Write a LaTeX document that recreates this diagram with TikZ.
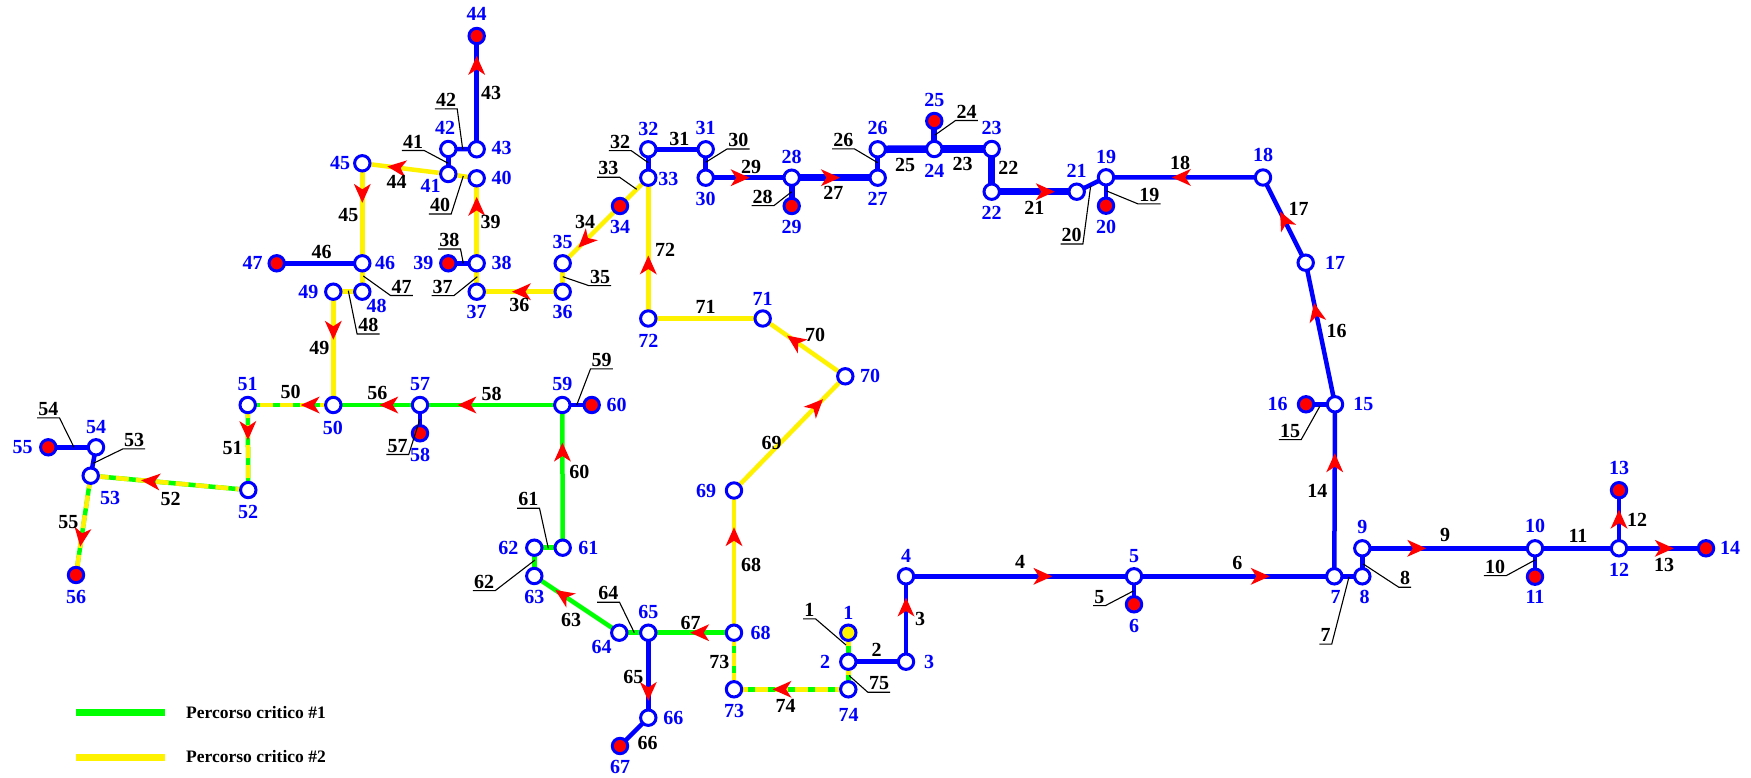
\documentclass[tikz,border=0pt]{standalone}
\usepackage{fontspec}
\setmainfont{Liberation Serif}
\usetikzlibrary{decorations.markings}
\begin{document}
\begin{tikzpicture}[x=1pt,y=-1pt,
  nd/.style={circle, draw=blue, line width=3pt, fill=white, minimum size=15.4pt, inner sep=0pt},
  rd/.style={nd, fill=red},
  yd/.style={nd, fill=yellow},
  bl/.style={draw=blue, line width=4.5pt},
  bm/.style={draw=blue, line width=6pt},
  bk/.style={draw=blue, line width=7.5pt},
  ye/.style={draw=yellow, line width=4.5pt},
  gr/.style={draw=green, line width=4.5pt},
  gy/.style={preaction={draw=green, solid, line width=4.5pt}, draw=yellow, line width=4.5pt, dash pattern=on 13pt off 7pt},
  arr/.style={postaction={decorate, decoration={markings, mark=at position #1 with {\fill[red] (9.5,0) -- (-9.5,8.5) -- (-4,0) -- (-9.5,-8.5) -- cycle;}}}},
  nl/.style={text=blue, font=\fontsize{20}{23}\selectfont\bfseries, inner sep=0pt},
  el/.style={text=black, font=\fontsize{20}{23}\selectfont\bfseries, inner sep=0pt},
  ul/.style={el, inner xsep=1pt, inner ysep=2pt},
  ld/.style={draw=black, line width=1.1pt},
  lgt/.style={text=black, font=\fontsize{17.5}{20}\selectfont\bfseries, anchor=west, inner sep=0pt}
]
\useasboundingbox (0,0) rectangle (1751,777);
% node centres
\coordinate (p1) at (848.3,632.7);
\coordinate (p2) at (848.3,661.7);
\coordinate (p3) at (906,661.7);
\coordinate (p4) at (906,576.3);
\coordinate (p5) at (1134,576.3);
\coordinate (p6) at (1134,604.3);
\coordinate (p7) at (1334.3,576.3);
\coordinate (p8) at (1362.3,576.3);
\coordinate (p9) at (1362.3,548.3);
\coordinate (p10) at (1535,548.3);
\coordinate (p11) at (1535,576.7);
\coordinate (p12) at (1619,548.3);
\coordinate (p13) at (1619,490.2);
\coordinate (p14) at (1706,548.3);
\coordinate (p15) at (1335,404.3);
\coordinate (p16) at (1306,404.3);
\coordinate (p17) at (1305.7,262.7);
\coordinate (p18) at (1263,177.5);
\coordinate (p19) at (1106,177.3);
\coordinate (p20) at (1106,205.7);
\coordinate (p21) at (1076.7,191.7);
\coordinate (p22) at (991.7,191.7);
\coordinate (p23) at (991.7,149);
\coordinate (p24) at (934.3,149);
\coordinate (p25) at (934.3,121);
\coordinate (p26) at (877.7,149.3);
\coordinate (p27) at (877.7,177.7);
\coordinate (p28) at (791.7,177.7);
\coordinate (p29) at (791.7,206);
\coordinate (p30) at (705.7,177.7);
\coordinate (p31) at (705.7,149.3);
\coordinate (p32) at (648.3,149.3);
\coordinate (p33) at (648.3,177.7);
\coordinate (p34) at (620,206);
\coordinate (p35) at (562.7,263.3);
\coordinate (p36) at (562.7,291.7);
\coordinate (p37) at (476.7,291.7);
\coordinate (p38) at (476.7,263.3);
\coordinate (p39) at (448.3,263.3);
\coordinate (p40) at (476.7,178.3);
\coordinate (p41) at (448.3,174);
\coordinate (p42) at (448.3,149);
\coordinate (p43) at (476.7,149.3);
\coordinate (p44) at (476.7,36);
\coordinate (p45) at (362.3,163.3);
\coordinate (p46) at (362.3,263.3);
\coordinate (p47) at (276.7,263.3);
\coordinate (p48) at (362.3,291.7);
\coordinate (p49) at (333.3,291.7);
\coordinate (p50) at (333.3,405);
\coordinate (p51) at (247.7,405);
\coordinate (p52) at (248.3,490);
\coordinate (p53) at (90.7,475.7);
\coordinate (p54) at (96,447.3);
\coordinate (p55) at (48.3,447.3);
\coordinate (p56) at (76,575);
\coordinate (p57) at (420,405);
\coordinate (p58) at (420,433.3);
\coordinate (p59) at (562.3,405);
\coordinate (p60) at (591.7,405);
\coordinate (p61) at (562.7,547.7);
\coordinate (p62) at (534.3,547.7);
\coordinate (p63) at (534.3,576);
\coordinate (p64) at (619.3,632.7);
\coordinate (p65) at (648.3,632.7);
\coordinate (p66) at (648.3,717.7);
\coordinate (p67) at (620,746);
\coordinate (p68) at (734,632.7);
\coordinate (p69) at (734,490.5);
\coordinate (p70) at (845.3,376.3);
\coordinate (p71) at (762.7,318.5);
\coordinate (p72) at (648.3,318.5);
\coordinate (p73) at (734,689.3);
\coordinate (p74) at (848.3,689.3);
% edges
\draw[gy] (p1) -- (p2);
\draw[bl] (p2) -- (p3);
\draw[bl, arr=0.64] (p3) -- (p4);
\draw[bl, arr=0.6] (p4) -- (p5);
\draw[bl] (p5) -- (p6);
\draw[bl, arr=0.63] (p5) -- (p7);
\draw[bl] (p7) -- (p8);
\draw[bl] (p8) -- (p9);
\draw[bl, arr=0.315] (p9) -- (p10);
\draw[bl] (p10) -- (p11);
\draw[bl] (p10) -- (p12);
\draw[bl, arr=0.5] (p12) -- (p13);
\draw[bl, arr=0.52] (p12) -- (p14);
\draw[bl, arr=0.66] (p7) -- (p15);
\draw[bl] (p15) -- (p16);
\draw[bl, arr=0.65] (p15) -- (p17);
\draw[bl, arr=0.5] (p17) -- (p18);
\draw[bl, arr=0.52] (p18) -- (p19);
\draw[bl] (p19) -- (p20);
\draw[bl] (p19) -- (p21);
\draw[bk, arr=0.63] (p22) -- (p21);
\draw[bk] (p23) -- (p22);
\draw[bk] (p24) -- (p23);
\draw[bm] (p24) -- (p25);
\draw[bk] (p26) -- (p24);
\draw[bl] (p26) -- (p27);
\draw[bk, arr=0.45] (p28) -- (p27);
\draw[bm] (p28) -- (p29);
\draw[bl, arr=0.4] (p30) -- (p28);
\draw[bl] (p30) -- (p31);
\draw[bl] (p31) -- (p32);
\draw[bl] (p32) -- (p33);
\draw[ye] (p33) -- (p34);
\draw[ye, arr=0.61] (p34) -- (p35);
\draw[ye] (p35) -- (p36);
\draw[ye, arr=0.48] (p36) -- (p37);
\draw[ye] (p37) -- (p38);
\draw[bl] (p38) -- (p39);
\draw[ye, arr=0.67] (p38) -- (p40);
\draw[ye] (p40) -- (p41);
\draw[bl] (p41) -- (p42);
\draw[bl] (p42) -- (p43);
\draw[bl, arr=0.74] (p43) -- (p44);
\draw[ye, arr=0.6] (p41) -- (p45);
\draw[ye, arr=0.3] (p45) -- (p46);
\draw[bl] (p46) -- (p47);
\draw[ye] (p46) -- (p48);
\draw[ye] (p48) -- (p49);
\draw[ye, arr=0.34] (p49) -- (p50);
\draw[gy, arr=0.27] (p50) -- (p51);
\draw[gy, arr=0.3] (p51) -- (p52);
\draw[gy, arr=0.62] (p52) -- (p53);
\draw[bl] (p53) -- (p54);
\draw[bl] (p54) -- (p55);
\draw[gy, arr=0.62] (p53) -- (p56);
\draw[gr, arr=0.36] (p57) -- (p50);
\draw[bl] (p57) -- (p58);
\draw[gr, arr=0.67] (p59) -- (p57);
\draw[bl] (p59) -- (p60);
\draw[gr, arr=0.67] (p61) -- (p59);
\draw[gr] (p61) -- (p62);
\draw[gr] (p62) -- (p63);
\draw[gr, arr=0.66] (p64) -- (p63);
\draw[gr] (p64) -- (p65);
\draw[bl, arr=0.69] (p65) -- (p66);
\draw[bl] (p66) -- (p67);
\draw[gr, arr=0.4] (p68) -- (p65);
\draw[ye, arr=0.675] (p68) -- (p69);
\draw[ye, arr=0.74] (p69) -- (p70);
\draw[ye, arr=0.61] (p70) -- (p71);
\draw[ye] (p71) -- (p72);
\draw[ye, arr=0.38] (p72) -- (p33);
\draw[gy] (p68) -- (p73);
\draw[gy, arr=0.58] (p74) -- (p73);
\draw[gy] (p2) -- (p74);
% nodes
\node[yd] (n1) at (p1) {};
\foreach \i in {2,3,4,5,7,8,9,10,12,15,17,18,19,21,22,23,24,26,27,28,30,31,32,33,35,36,37,38,40,41,42,43,45,46,48,49,50,51,52,53,54,57,59,61,62,63,64,65,66,68,69,70,71,72,73,74}
  \node[nd] (n\i) at (p\i) {};
\foreach \i in {6,11,13,14,16,20,25,29,34,39,44,47,55,56,58,60,67}
  \node[rd] (n\i) at (p\i) {};
% blue node labels
\node[nl] (b1) at (848.3,613.3) {1};
\node[nl] (b2) at (825,661.7) {2};
\node[nl] (b3) at (929,661.7) {3};
\node[nl] (b4) at (906,556) {4};
\node[nl] (b5) at (1134,556) {5};
\node[nl] (b6) at (1134,626) {6};
\node[nl] (b7) at (1335.5,597.4) {7};
\node[nl] (b8) at (1364.6,597.4) {8};
\node[nl] (b9) at (1362.3,526.7) {9};
\node[nl] (b10) at (1535,526) {10};
\node[nl] (b11) at (1535,597) {11};
\node[nl] (b12) at (1619,570) {12};
\node[nl] (b13) at (1619,468) {13};
\node[nl] (b14) at (1730,548.3) {14};
\node[nl] (b15) at (1363.3,404.3) {15};
\node[nl] (b16) at (1277.7,404.3) {16};
\node[nl] (b17) at (1335,262.7) {17};
\node[nl] (b18) at (1263,155) {18};
\node[nl] (b19) at (1106,156.7) {19};
\node[nl] (b20) at (1106,226.7) {20};
\node[nl] (b21) at (1076.7,170.7) {21};
\node[nl] (b22) at (991.7,213.3) {22};
\node[nl] (b23) at (991.7,128.3) {23};
\node[nl] (b24) at (934.3,170.7) {24};
\node[nl] (b25) at (934.3,100) {25};
\node[nl] (b26) at (877.7,128.3) {26};
\node[nl] (b27) at (877.7,199) {27};
\node[nl] (b28) at (791.7,156.7) {28};
\node[nl] (b29) at (791.7,227.3) {29};
\node[nl] (b30) at (705.7,199) {30};
\node[nl] (b31) at (705.7,128.3) {31};
\node[nl] (b32) at (648.3,129.3) {32};
\node[nl] (b33) at (668.3,179.3) {33};
\node[nl] (b34) at (620,227.3) {34};
\node[nl] (b35) at (562.7,241.7) {35};
\node[nl] (b36) at (562.7,311.7) {36};
\node[nl] (b37) at (476.7,311.7) {37};
\node[nl] (b38) at (501.7,263.3) {38};
\node[nl] (b39) at (423.3,263.3) {39};
\node[nl] (b40) at (501.7,177.7) {40};
\node[nl] (b41) at (430.7,185.7) {41};
\node[nl] (b42) at (445,128.3) {42};
\node[nl] (b43) at (501.7,148) {43};
\node[nl] (b44) at (476.7,14) {44};
\node[nl] (b45) at (340,163.3) {45};
\node[nl] (b46) at (385,263.3) {46};
\node[nl] (b47) at (252.7,263.3) {47};
\node[nl] (b48) at (376.7,306) {48};
\node[nl] (b49) at (308.3,291.7) {49};
\node[nl] (b50) at (332.8,427.7) {50};
\node[nl] (b51) at (247.7,384) {51};
\node[nl] (b52) at (248,512) {52};
\node[nl] (b53) at (110,498) {53};
\node[nl] (b54) at (96,427) {54};
\node[nl] (b55) at (22.7,447) {55};
\node[nl] (b56) at (76,597) {56};
\node[nl] (b57) at (420,384.3) {57};
\node[nl] (b58) at (420,455) {58};
\node[nl] (b59) at (562.3,384.3) {59};
\node[nl] (b60) at (616.7,405) {60};
\node[nl] (b61) at (588.3,547.7) {61};
\node[nl] (b62) at (508.3,547.7) {62};
\node[nl] (b63) at (534.3,597.3) {63};
\node[nl] (b64) at (601.7,646.7) {64};
\node[nl] (b65) at (648.3,611.7) {65};
\node[nl] (b66) at (673.3,718.3) {66};
\node[nl] (b67) at (620,766.7) {67};
\node[nl] (b68) at (760.7,632.7) {68};
\node[nl] (b69) at (706,490.7) {69};
\node[nl] (b70) at (870,376.3) {70};
\node[nl] (b71) at (762.7,299.3) {71};
\node[nl] (b72) at (648.3,341) {72};
\node[nl] (b73) at (734,710.7) {73};
\node[nl] (b74) at (848.7,714.7) {74};
% black edge labels
\node[el] (e2) at (876.7,650) {2};
\node[el] (e3) at (920,619) {3};
\node[el] (e4) at (1020,561.7) {4};
\node[el] (e6) at (1237.3,563.3) {6};
\node[el] (e9) at (1445,535) {9};
\node[el] (e11) at (1578,536) {11};
\node[el] (e12) at (1637,520) {12};
\node[el] (e13) at (1664,565) {13};
\node[el] (e14) at (1317.3,491) {14};
\node[el] (e16) at (1336.7,331) {16};
\node[el] (e17) at (1298.7,208.8) {17};
\node[el] (e18) at (1180,162.7) {18};
\node[el] (e21) at (1034.3,208.3) {21};
\node[el] (e22) at (1008.3,168.3) {22};
\node[el] (e23) at (962.7,164) {23};
\node[el] (e25) at (905,165) {25};
\node[el] (e27) at (833.3,193.3) {27};
\node[el] (e29) at (751,167.3) {29};
\node[el] (e31) at (679.3,139.3) {31};
\node[el] (e34) at (585,221.7) {34};
\node[el] (e36) at (519.3,305) {36};
\node[el] (e39) at (490.7,221.7) {39};
\node[el] (e43) at (491,93) {43};
\node[el] (e44) at (396.7,181.7) {44};
\node[el] (e45) at (348.3,215) {45};
\node[el] (e46) at (321.7,251.7) {46};
\node[el] (e49) at (319.3,348.3) {49};
\node[el] (e50) at (290.7,392) {50};
\node[el] (e51) at (232.7,448) {51};
\node[el] (e52) at (170.7,499) {52};
\node[el] (e55) at (68.3,522) {55};
\node[el] (e56) at (377.4,393) {56};
\node[el] (e58) at (491.7,394) {58};
\node[el] (e60) at (579.3,471.7) {60};
\node[el] (e63) at (571,620) {63};
\node[el] (e65) at (633.3,676.7) {65};
\node[el] (e66) at (647.7,743.3) {66};
\node[el] (e67) at (690.7,622.7) {67};
\node[el] (e68) at (751,565) {68};
\node[el] (e69) at (771.6,443.3) {69};
\node[el] (e70) at (815,335) {70};
\node[el] (e71) at (705.7,306.7) {71};
\node[el] (e72) at (665,250) {72};
\node[el] (e73) at (719.3,661.7) {73};
\node[el] (e74) at (785.7,706) {74};
% underlined labels with leaders
\node[ul] (u1) at (809.3,610) {1};
\coordinate (c1) at (846,645);
\draw[ld] (c1) -- (u1.south east) -- (u1.south west);
\node[ul] (u5) at (1099.3,596.7) {5};
\coordinate (c5) at (1133.3,591);
\draw[ld] (c5) -- (u5.south east) -- (u5.south west);
\node[ul] (u7) at (1325.5,635.4) {7};
\coordinate (c7) at (1349,577);
\draw[ld] (c7) -- (u7.south east) -- (u7.south west);
\node[ul] (u8) at (1405,578.3) {8};
\coordinate (c8) at (1363.3,564);
\draw[ld] (c8) -- (u8.south west) -- (u8.south east);
\node[ul] (u10) at (1495,566.7) {10};
\coordinate (c10) at (1535,560);
\draw[ld] (c10) -- (u10.south east) -- (u10.south west);
\node[ul] (u15) at (1290,430.7) {15};
\coordinate (c15) at (1320,406);
\draw[ld] (c15) -- (u15.south east) -- (u15.south west);
\node[ul] (u19) at (1149.3,195) {19};
\coordinate (c19) at (1106.7,191);
\draw[ld] (c19) -- (u19.south west) -- (u19.south east);
\node[ul] (u20) at (1071.7,235) {20};
\coordinate (c20) at (1090.7,185.7);
\draw[ld] (c20) -- (u20.south east) -- (u20.south west);
\node[ul] (u24) at (966.7,111.7) {24};
\coordinate (c24) at (935,135);
\draw[ld] (c24) -- (u24.south west) -- (u24.south east);
\node[ul] (u26) at (843.3,140) {26};
\coordinate (c26) at (877.7,162.7);
\draw[ld] (c26) -- (u26.south east) -- (u26.south west);
\node[ul] (u28) at (762.7,196.7) {28};
\coordinate (c28) at (791.7,191.7);
\draw[ld] (c28) -- (u28.south east) -- (u28.south west);
\node[ul] (u30) at (738.3,140) {30};
\coordinate (c30) at (705.7,162.3);
\draw[ld] (c30) -- (u30.south west) -- (u30.south east);
\node[ul] (u32) at (620,141.7) {32};
\coordinate (c32) at (648.3,162.7);
\draw[ld] (c32) -- (u32.south east) -- (u32.south west);
\node[ul] (u33) at (608.3,168.3) {33};
\coordinate (c33) at (636.7,189.3);
\draw[ld] (c33) -- (u33.south east) -- (u33.south west);
\node[ul] (u35) at (600,276.7) {35};
\coordinate (c35) at (562.7,276.7);
\draw[ld] (c35) -- (u35.south west) -- (u35.south east);
\node[ul] (u37) at (442.7,286.7) {37};
\coordinate (c37) at (477.3,276.7);
\draw[ld] (c37) -- (u37.south east) -- (u37.south west);
\node[ul] (u38) at (449.3,240) {38};
\coordinate (c38) at (463.3,263.3);
\draw[ld] (c38) -- (u38.south east) -- (u38.south west);
\node[ul] (u40) at (440,205) {40};
\coordinate (c40) at (463.3,176);
\draw[ld] (c40) -- (u40.south east) -- (u40.south west);
\node[ul] (u41) at (413,141.7) {41};
\coordinate (c41) at (448.3,163.3);
\draw[ld] (c41) -- (u41.south east) -- (u41.south west);
\node[ul] (u42) at (446,100) {42};
\coordinate (c42) at (462.7,149.3);
\draw[ld] (c42) -- (u42.south east) -- (u42.south west);
\node[ul] (u47) at (401.7,286.7) {47};
\coordinate (c47) at (363.3,276);
\draw[ld] (c47) -- (u47.south west) -- (u47.south east);
\node[ul] (u48) at (368.3,325) {48};
\coordinate (c48) at (348.3,290.7);
\draw[ld] (c48) -- (u48.south west) -- (u48.south east);
\node[ul] (u53) at (134,440) {53};
\coordinate (c53) at (93.3,463.3);
\draw[ld] (c53) -- (u53.south west) -- (u53.south east);
\node[ul] (u54) at (48.3,409) {54};
\coordinate (c54) at (74,447.3);
\draw[ld] (c54) -- (u54.south east) -- (u54.south west);
\node[ul] (u57) at (397.5,445.6) {57};
\coordinate (c57) at (420,419);
\draw[ld] (c57) -- (u57.south east) -- (u57.south west);
\node[ul] (u59) at (601.7,360) {59};
\coordinate (c59) at (576.7,405);
\draw[ld] (c59) -- (u59.south west) -- (u59.south east);
\node[ul] (u61) at (528.3,499.3) {61};
\coordinate (c61) at (548.3,548.3);
\draw[ld] (c61) -- (u61.south east) -- (u61.south west);
\node[ul] (u62) at (484,581.7) {62};
\coordinate (c62) at (535,560);
\draw[ld] (c62) -- (u62.south east) -- (u62.south west);
\node[ul] (u64) at (608.3,593.3) {64};
\coordinate (c64) at (634.3,632.7);
\draw[ld] (c64) -- (u64.south east) -- (u64.south west);
\node[ul] (u75) at (879,683.4) {75};
\coordinate (c75) at (849,675.5);
\draw[ld] (c75) -- (u75.south west) -- (u75.south east);
% legend
\coordinate (lg1a) at (76,712.5);
\coordinate (lg1b) at (165,712.5);
\draw[green, line width=7pt] (lg1a) -- (lg1b);
\node[lgt] (leg1) at (186,712.5) {Percorso critico \#1};
\coordinate (lg2a) at (76,757);
\coordinate (lg2b) at (165,757);
\draw[yellow, line width=7pt] (lg2a) -- (lg2b);
\node[lgt] (leg2) at (186,757) {Percorso critico \#2};
\end{tikzpicture}
\end{document}
